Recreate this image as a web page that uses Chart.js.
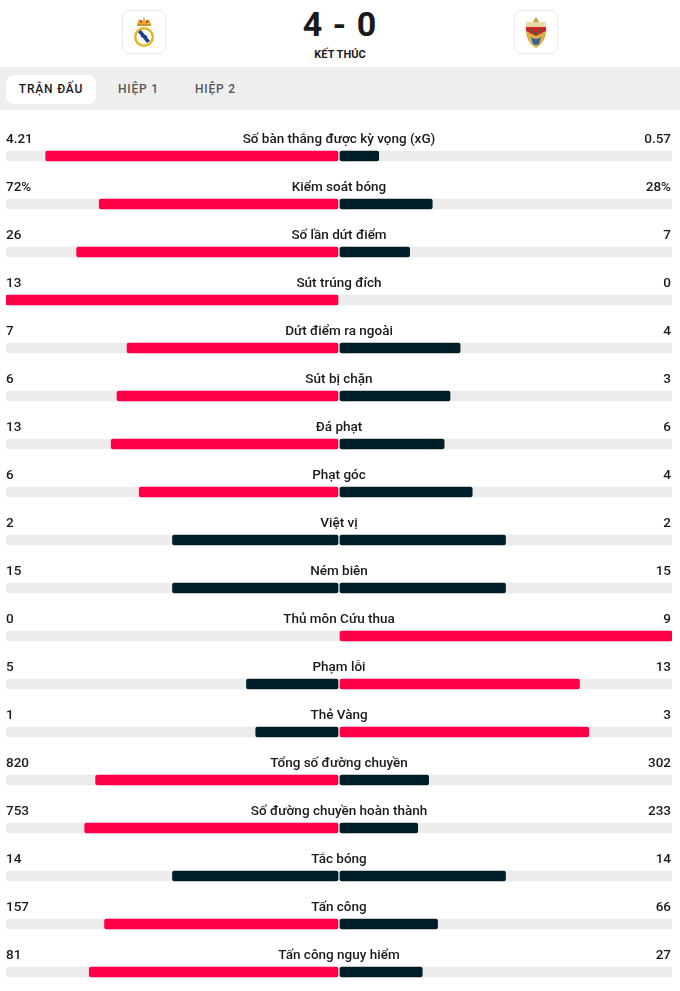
<!DOCTYPE html>
<html lang="vi">
<head>
<meta charset="utf-8">
<title>Thống kê trận đấu</title>
<script src="https://cdn.jsdelivr.net/npm/chart.js@4.4.0/dist/chart.umd.min.js"></script>
<style>
  html, body { margin: 0; padding: 0; background: #fff; overflow: hidden; }
  body { width: 680px; height: 991px; position: relative; font-family: Roboto, "Noto Sans", sans-serif; color: #1a1a1a; }
  .header { position: absolute; top: 0; left: 0; width: 680px; height: 67px; }
  .logo { position: absolute; top: 10px; width: 42px; height: 42px; border: 1px solid #ececec; border-radius: 7px; display: flex; align-items: center; justify-content: center; }
  .logo.home { left: 122px; }
  .logo.away { left: 514px; }
  .score { position: absolute; top: 4px; left: 0; width: 680px; text-align: center; font-size: 34px; font-weight: 700; letter-spacing: 1px; }
  .status { position: absolute; top: 48px; left: 0; width: 680px; text-align: center; font-size: 11px; font-weight: 700; }
  .tabs { position: absolute; top: 67px; left: 0; width: 680px; height: 43px; background: #eeeeee; }
  .tab { position: absolute; top: 8px; height: 29px; line-height: 29px; font-size: 12px; font-weight: 500; letter-spacing: 0.8px; color: #555; }
  .tab.active { left: 6px; width: 90px; background: #fff; border-radius: 8px; text-align: center; color: #1a1a1a; }
  .chart-box { position: absolute; top: 110px; left: 0; width: 680px; height: 886px; }
</style>
</head>
<body>
<div class="header">
  <div class="logo home">
    <svg width="26" height="34" viewBox="0 0 26 34">
      <path d="M6 9 L8 4 L11 7 L13 2 L15 7 L18 4 L20 9 Z" fill="#e0b030"/>
      <circle cx="10" cy="6.5" r="1.2" fill="#d02030"/><circle cx="16" cy="6.5" r="1.2" fill="#d02030"/>
      <rect x="6" y="9" width="14" height="2" fill="#c9962a"/>
      <circle cx="13" cy="22" r="10" fill="#e6b422"/>
      <circle cx="13" cy="22" r="7.6" fill="#fff"/>
      <path d="M7 17 L10 15 L19 26 L16 28 Z" fill="#1f3f8f"/>
      <path d="M10 22 Q13 19 16 22" stroke="#1f3f8f" stroke-width="1.5" fill="none"/>
    </svg>
  </div>
  <div class="score">4 - 0</div>
  <div class="status">KẾT THÚC</div>
  <div class="logo away">
    <svg width="26" height="34" viewBox="0 0 26 34">
      <path d="M3 7 L23 7 L23 16 Q23 27 13 33 Q3 27 3 16 Z" fill="#d8b04a"/>
      <path d="M10 7 L13 2 L16 7 Z" fill="#c8a040"/>
      <rect x="3" y="7" width="20" height="5" fill="#e7d9a8"/>
      <path d="M3 12 L23 12 L23 16 L13 21 L3 16 Z" fill="#d4202a"/>
      <path d="M7 14 L13 19 L19 14" stroke="#1a7a3a" stroke-width="1.2" fill="none"/>
      <path d="M8 22 Q13 26 18 22 L16 29 Q13 31 10 29 Z" fill="#3a5fa0"/>
    </svg>
  </div>
</div>
<div class="tabs">
  <div class="tab active">TRẬN ĐẤU</div>
  <div class="tab" style="left:118px">HIỆP 1</div>
  <div class="tab" style="left:195px">HIỆP 2</div>
</div>
<div class="chart-box"><canvas id="statsChart"></canvas></div>

<script>
// Stat names, shown centred above each bar
const statNames = [
    'Số bàn thắng được kỳ vọng (xG)', 'Kiểm soát bóng', 'Số lần dứt điểm', 'Sút trúng đích',
    'Dứt điểm ra ngoài', 'Sút bị chặn', 'Đá phạt', 'Phạt góc', 'Việt vị', 'Ném biên',
    'Thủ môn Cứu thua', 'Phạm lỗi', 'Thẻ Vàng', 'Tổng số đường chuyền',
    'Số đường chuyền hoàn thành', 'Tắc bóng', 'Tấn công', 'Tấn công nguy hiểm'
];

// Real Madrid (left) and Elche (right)
const homeValues = [4.21, 72, 26, 13, 7, 6, 13, 6, 2, 15, 0, 5, 1, 820, 753, 14, 157, 81];
const awayValues = [0.57, 28, 7, 0, 4, 3, 6, 4, 2, 15, 9, 13, 3, 302, 233, 14, 66, 27];

// Unit printed after the number
const valueUnits = ['', '%', '', '', '', '', '', '', '', '', '', '', '', '', '', '', '', ''];

const RED = '#ff0046';
const DARK = '#001e28';
const TRACK = '#ececec';
const CENTER_GAP = 1 / 333;   // 1px each side of the middle

// Share of each side, left side goes negative
const homeBars = homeValues.map((h, i) => {
    const total = h + awayValues[i];
    return h > 0 ? [-h / total, -CENTER_GAP] : null;
});
const awayBars = awayValues.map((a, i) => {
    const total = homeValues[i] + a;
    return a > 0 ? [CENTER_GAP, a / total] : null;
});
const homeColors = homeValues.map((h, i) => h > awayValues[i] ? RED : DARK);
const awayColors = awayValues.map((a, i) => a > homeValues[i] ? RED : DARK);

// Draw numbers and stat names above the bars
const statTextPlugin = {
    id: 'statText',
    afterDatasetsDraw(chart) {
        const ctx = chart.ctx;
        const y = chart.scales.y;
        const area = chart.chartArea;
        const mid = (area.left + area.right) / 2;
        ctx.save();
        ctx.font = '500 13.5px Roboto';
        ctx.fillStyle = '#1a1a1a';
        ctx.textBaseline = 'middle';
        statNames.forEach((name, i) => {
            const ty = y.getPixelForValue(i) - 16;
            ctx.textAlign = 'left';
            ctx.fillText(homeValues[i] + valueUnits[i], area.left, ty);
            ctx.textAlign = 'center';
            ctx.fillText(name, mid, ty);
            ctx.textAlign = 'right';
            ctx.fillText(awayValues[i] + valueUnits[i], area.right - 1, ty);
        });
        ctx.restore();
    }
};

new Chart('statsChart', {
    type: 'bar',
    data: {
        labels: statNames,
        datasets: [
            {
                label: 'Real Madrid',
                data: homeBars,
                backgroundColor: homeColors,
                order: 1
            },
            {
                label: 'Elche',
                data: awayBars,
                backgroundColor: awayColors,
                order: 1
            },
            {
                label: 'track',
                data: statNames.map(() => [-1, 1]),
                backgroundColor: TRACK,
                order: 2
            }
        ]
    },
    options: {
        indexAxis: 'y',
        responsive: true,
        maintainAspectRatio: false,
        animation: false,
        layout: { padding: { top: 22, left: 6, right: 8, bottom: 0 } },
        datasets: {
            bar: {
                grouped: false,
                barThickness: 10,
                borderRadius: 2,
                borderSkipped: false
            }
        },
        scales: {
            x: { min: -1, max: 1, display: false },
            y: { display: false }
        },
        plugins: {
            legend: { display: false },
            tooltip: { enabled: false }
        }
    },
    plugins: [statTextPlugin]
});
</script>
</body>
</html>
